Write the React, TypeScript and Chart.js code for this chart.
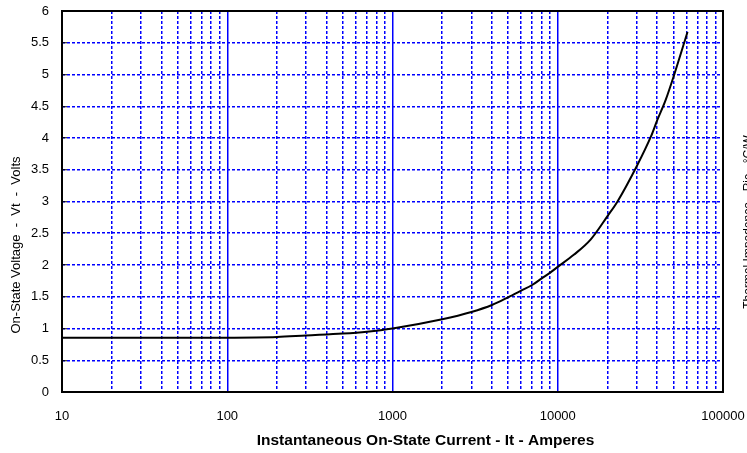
import React, { useEffect, useRef } from "react";
import { Chart, registerables } from "chart.js";

Chart.register(...registerables);

// ---- data ----
const currentAmps = [
  10, 20, 50, 100, 150, 200, 300, 500, 700, 1000, 2000, 3000, 4000, 5000, 6000,
  7000, 8000, 9000, 10000, 12500, 15800, 20000, 23000, 30000, 36600, 40000,
  45000, 51000, 61000,
];
const onStateVolts = [
  0.855, 0.855, 0.855, 0.856, 0.858, 0.865, 0.89, 0.92, 0.95, 1.0, 1.145,
  1.26, 1.37, 1.49, 1.595, 1.685, 1.79, 1.88, 1.97, 2.16, 2.4, 2.77, 3.0, 3.55,
  4.02, 4.28, 4.6, 5.02, 5.67,
];
const xTickValues = [
  10, 20, 30, 40, 50, 60, 70, 80, 90,
  100, 200, 300, 400, 500, 600, 700, 800, 900,
  1000, 2000, 3000, 4000, 5000, 6000, 7000, 8000, 9000,
  10000, 20000, 30000, 40000, 50000, 60000, 70000, 80000, 90000,
  100000,
];
const xLabelValues = [10, 100, 1000, 10000, 100000];
const xDecadeLines = [100, 1000, 10000];
const yTickValues = [0, 0.5, 1, 1.5, 2, 2.5, 3, 3.5, 4, 4.5, 5, 5.5, 6];

const xTitle = "Instantaneous On-State Current - It - Amperes";
const yTitle = "On-State Voltage  -  Vt  -  Volts";
const rightTitle = "Thermal Impedance - Rjc - \u00B0C/W";

const SANS = "'Liberation Sans', Arial, sans-serif";
const GRID_BLUE = "#0000ff";

const framePlugin = {
  id: "frameAndTitles",
  afterDraw(chart: any) {
    const { ctx, chartArea } = chart;
    const { left, top, right, bottom } = chartArea;
    ctx.save();
    ctx.strokeStyle = "#000";
    ctx.lineWidth = 2;
    ctx.strokeRect(left, top, right - left, bottom - top);

    ctx.fillStyle = "#000";
    // x title
    ctx.font = `bold 15.5px ${SANS}`;
    ctx.textAlign = "center";
    ctx.textBaseline = "middle";
    ctx.fillText(xTitle, left + (right - left) / 2 + 33, 441);

    // y title
    ctx.save();
    ctx.translate(16, 245);
    ctx.rotate(-Math.PI / 2);
    ctx.font = `13px ${SANS}`;
    ctx.textAlign = "center";
    ctx.textBaseline = "middle";
    ctx.fillText(yTitle, 0, 0);
    ctx.restore();

    // right (cut-off) title
    ctx.save();
    ctx.translate(743, 222);
    ctx.rotate(-Math.PI / 2);
    ctx.font = `12px ${SANS}`;
    ctx.textAlign = "center";
    ctx.textBaseline = "top";
    ctx.fillText(rightTitle, 0, 0);
    ctx.restore();

    ctx.restore();
  },
};

export default function App() {
  const canvasRef = useRef<HTMLCanvasElement | null>(null);

  useEffect(() => {
    if (!canvasRef.current) return;
    const points = currentAmps.map((x, i) => ({ x, y: onStateVolts[i] }));
    const chart = new Chart(canvasRef.current, {
      type: "line",
      data: {
        datasets: [
          {
            data: points,
            borderColor: "#000",
            borderWidth: 2,
            pointRadius: 0,
            cubicInterpolationMode: "monotone",
            fill: false,
          },
        ],
      },
      options: {
        animation: false,
        responsive: true,
        maintainAspectRatio: false,
        layout: { padding: { left: 0, top: 11, right: 24, bottom: 0 } },
        plugins: {
          legend: { display: false },
          tooltip: { enabled: false },
          title: { display: false },
        },
        scales: {
          x: {
            type: "logarithmic",
            position: "bottom",
            min: 10,
            max: 100000,
            afterBuildTicks: (s: any) => {
              s.ticks = xTickValues.map((v) => ({ value: v }));
            },
            afterFit: (s: any) => {
              s.height = 61;
              s.paddingLeft = 0;
              s.paddingRight = 0;
            },
            ticks: {
              autoSkip: false,
              maxRotation: 0,
              minRotation: 0,
              padding: 17,
              color: "#000",
              font: { family: SANS, size: 13 },
              callback: (v: any) =>
                xLabelValues.includes(Number(v)) ? String(v) : "",
            },
            grid: {
              color: (ctx: any) =>
                ctx.tick && xLabelValues.includes(ctx.tick.value)
                  ? "rgba(0,0,0,0)"
                  : GRID_BLUE,
              lineWidth: 1.5,
              drawTicks: false,
            },
            border: { display: false, dash: [3, 2] },
          },
          x2: {
            type: "logarithmic",
            position: "top",
            min: 10,
            max: 100000,
            afterBuildTicks: (s: any) => {
              s.ticks = xDecadeLines.map((v) => ({ value: v }));
            },
            afterFit: (s: any) => {
              s.height = 0;
              s.paddingLeft = 0;
              s.paddingRight = 0;
            },
            ticks: { display: false },
            grid: {
              color: GRID_BLUE,
              lineWidth: 1.5,
              drawTicks: false,
            },
            border: { display: false },
          },
          y: {
            type: "linear",
            min: 0,
            max: 6,
            afterBuildTicks: (s: any) => {
              s.ticks = yTickValues.map((v) => ({ value: v }));
            },
            afterFit: (s: any) => {
              s.width = 62;
              s.paddingTop = 0;
              s.paddingBottom = 0;
            },
            ticks: {
              padding: 18,
              color: "#000",
              font: { family: SANS, size: 13 },
              callback: (v: any) => String(v),
            },
            grid: {
              color: GRID_BLUE,
              lineWidth: 1.5,
              drawTicks: true,
              tickLength: -5,
              tickColor: "#000",
              tickWidth: 1,
            },
            border: { display: false, dash: [3, 2] },
          },
        },
      } as any,
      plugins: [framePlugin],
    });
    return () => chart.destroy();
  }, []);

  return (
    <div
      style={{
        position: "absolute",
        left: 0,
        top: 0,
        width: 747,
        height: 453,
        background: "#fff",
      }}
    >
      <canvas ref={canvasRef} />
    </div>
  );
}
